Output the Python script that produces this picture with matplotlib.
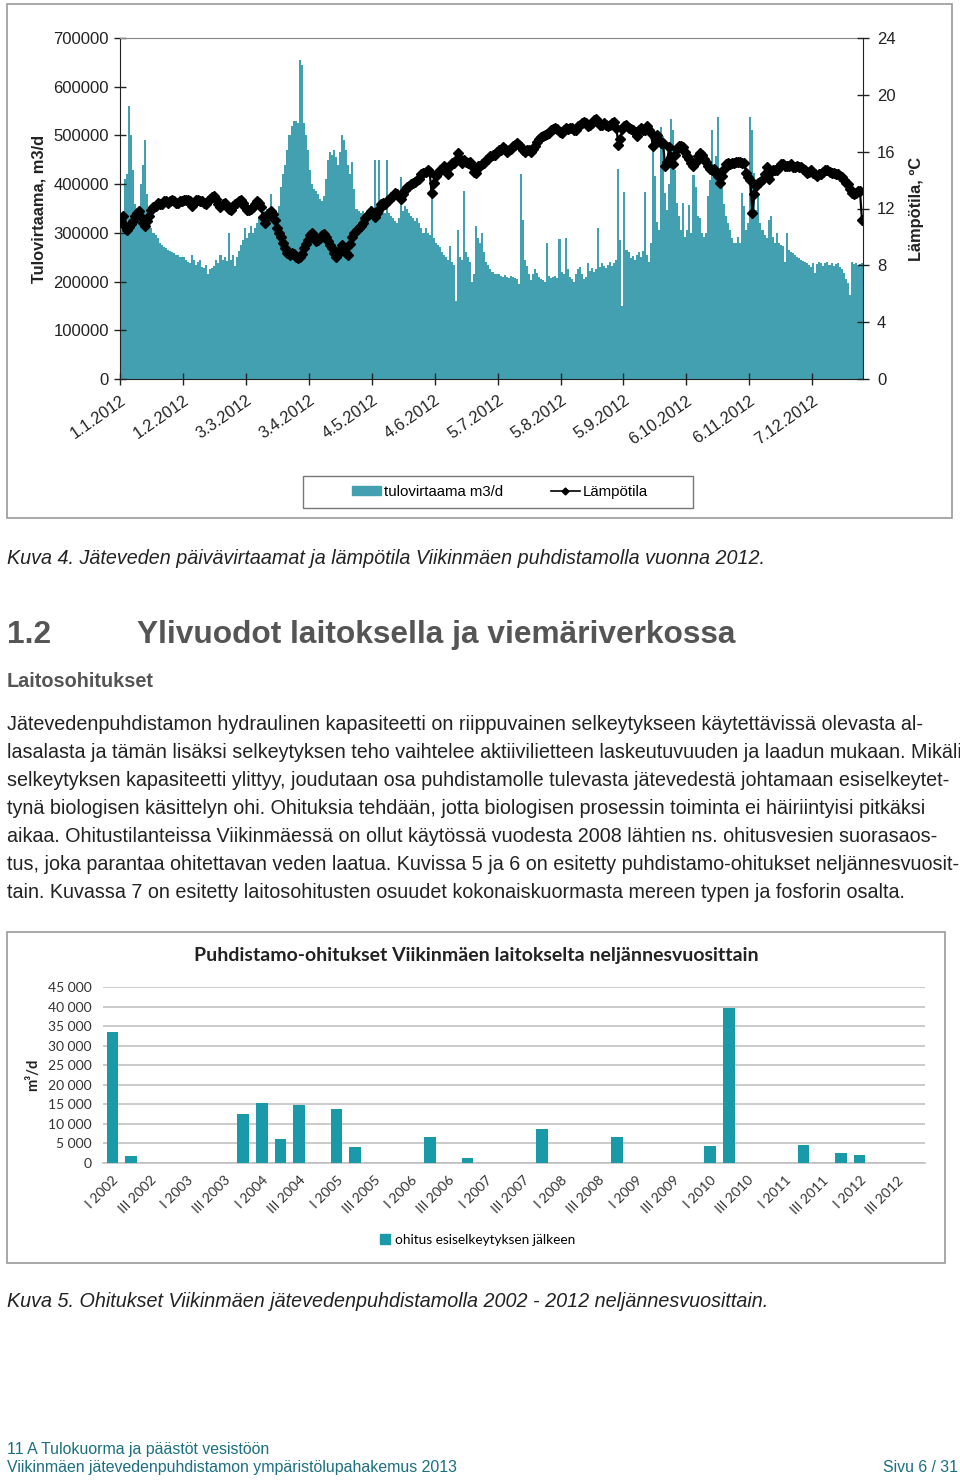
import numpy as np
import pandas as pd
import matplotlib
matplotlib.use("Agg")
import matplotlib.pyplot as plt
from matplotlib.patches import Rectangle, Patch
from matplotlib.lines import Line2D
from matplotlib.ticker import FuncFormatter

# ---------------- data: daily inflow 2012 (thousand m3/d) ----------------
flow_k = [
    320, 330, 410, 420, 560, 500, 430, 360, 340, 330,
    400, 440, 490, 380, 320, 310, 300, 295, 290, 280,
    275, 270, 268, 265, 262, 260, 258, 255, 255, 250,
    250, 250, 245, 240, 238, 255, 245, 235, 240, 245,
    230, 228, 235, 215, 225, 228, 232, 245, 238, 255,
    245, 250, 242, 300, 245, 255, 232, 250, 262, 275,
    285, 310, 290, 300, 315, 300, 310, 320, 330, 335,
    340, 345, 350, 345, 380, 340, 330, 325, 355, 395,
    420, 440, 470, 500, 520, 530, 530, 525, 655, 645,
    525, 500, 470, 430, 400, 390, 385, 380, 370, 365,
    375, 410, 450, 465, 460, 470, 455, 440, 465, 500,
    490, 470, 440, 420, 445, 390, 350, 345, 340, 345,
    335, 340, 350, 355, 350, 450, 360, 450, 355, 345,
    340, 450, 340, 335, 330, 325, 320, 330, 415, 345,
    355, 350, 340, 335, 330, 325, 330, 320, 310, 300,
    310, 300, 295, 380, 290, 280, 275, 270, 260, 255,
    250, 245, 272, 240, 235, 160, 305, 250, 245, 385,
    260, 250, 240, 200, 215, 315, 290, 280, 300, 260,
    240, 235, 225, 220, 215, 215, 215, 212, 210, 213,
    210, 208, 211, 209, 207, 205, 195, 421, 327, 245,
    231, 215, 203, 215, 225, 218, 210, 205, 203, 200,
    280, 212, 208, 210, 212, 208, 287, 220, 215, 289,
    225, 210, 205, 200, 215, 225, 230, 215, 205, 210,
    238, 222, 228, 220, 225, 310, 230, 238, 232, 228,
    235, 240, 232, 238, 245, 431, 286, 149, 383, 265,
    260, 248, 252, 245, 255, 260, 250, 262, 384, 255,
    241, 280, 477, 416, 323, 306, 518, 498, 381, 347,
    400, 534, 512, 429, 361, 334, 306, 361, 292, 306,
    358, 300, 419, 395, 334, 330, 299, 292, 300, 375,
    409, 512, 420, 457, 537, 420, 395, 360, 334, 320,
    306, 290, 279, 280, 292, 280, 381, 355, 306, 320,
    537, 512, 423, 347, 375, 320, 306, 295, 290, 327,
    334, 292, 279, 299, 280, 275, 272, 241, 299, 265,
    260, 258, 255, 250, 248, 245, 243, 240, 238, 235,
    230, 238, 217, 236, 240, 238, 232, 238, 240, 235,
    238, 232, 236, 238, 230, 225, 217, 205, 197, 173,
    240, 236, 238, 232, 236, 238,
]

# daily water temperature 2012 (deg C)
temp_c = [
    11.1, 11.5, 10.8, 10.5, 10.7, 10.9, 11.1, 11.5, 11.7, 11.8,
    11.4, 11.0, 10.8, 11.1, 11.5, 11.9, 12.1, 12.2, 12.4, 12.3,
    12.3, 12.5, 12.5, 12.4, 12.5, 12.6, 12.5, 12.4, 12.4, 12.5,
    12.5, 12.6, 12.6, 12.6, 12.5, 12.2, 12.4, 12.6, 12.6, 12.5,
    12.5, 12.4, 12.3, 12.5, 12.7, 12.8, 12.9, 12.7, 12.3, 12.1,
    12.3, 12.4, 12.2, 12.0, 11.9, 12.2, 12.3, 12.4, 12.5, 12.6,
    12.4, 12.1, 11.9, 11.9, 12.0, 12.1, 12.3, 12.5, 12.4, 12.1,
    11.4, 11.0, 11.4, 11.7, 11.8, 11.6, 11.2, 10.6, 10.3, 10.0,
    9.6, 9.2, 8.9, 8.7, 8.9, 8.8, 8.6, 8.5, 8.6, 8.8,
    9.2, 9.5, 9.8, 10.1, 10.3, 10.0, 9.7, 9.8, 9.9, 10.1,
    10.2, 10.0, 9.7, 9.4, 9.2, 8.9, 8.6, 8.8, 9.1, 9.4,
    9.2, 8.9, 8.7, 9.5, 10.0, 10.3, 10.5, 10.6, 10.8, 11.0,
    11.3, 11.5, 11.6, 11.8, 11.7, 11.4, 11.7, 12.0, 12.3, 12.4,
    12.3, 12.5, 12.6, 12.8, 12.9, 13.1, 13.0, 12.9, 12.7, 13.0,
    13.3, 13.5, 13.6, 13.7, 13.8, 13.9, 14.0, 14.1, 14.4, 14.5,
    14.6, 14.7, 14.6, 13.1, 13.8, 14.3, 14.5, 14.7, 14.8, 15.0,
    14.8, 14.4, 15.0, 15.2, 15.2, 15.4, 15.9, 15.5, 15.2, 15.4,
    15.3, 15.2, 15.3, 15.0, 14.6, 14.5, 15.0, 15.0, 15.1, 15.2,
    15.4, 15.5, 15.7, 15.8, 15.8, 16.0, 16.1, 16.15, 16.3, 16.2,
    16.0, 16.1, 16.2, 16.4, 16.5, 16.6, 16.5, 16.3, 16.1, 16.0,
    16.1, 16.1, 16.0, 16.2, 16.4, 16.7, 16.9, 17.0, 17.1, 17.2,
    17.25, 17.3, 17.5, 17.6, 17.7, 17.6, 17.4, 17.3, 17.5, 17.7,
    17.6, 17.7, 17.7, 17.5, 17.5, 17.8, 17.9, 18.0, 18.1, 18.0,
    17.8, 17.9, 18.0, 18.2, 18.3, 18.1, 17.9, 17.9, 18.0, 17.9,
    17.8, 17.9, 18.0, 18.1, 17.7, 16.5, 16.9, 17.6, 17.8, 17.9,
    17.7, 17.6, 17.5, 17.4, 17.1, 17.5, 17.7, 17.5, 17.5, 17.8,
    17.5, 17.3, 16.4, 17.0, 17.2, 16.8, 16.6, 16.6, 15.0, 15.3,
    16.3, 15.6, 15.1, 15.8, 16.2, 16.4, 16.4, 16.3, 16.0, 15.7,
    15.5, 15.2, 15.0, 15.3, 15.7, 15.9, 15.8, 15.5, 15.3, 15.0,
    14.8, 14.7, 14.8, 14.6, 14.3, 13.8, 14.3, 14.8, 15.1, 15.2,
    15.1, 15.2, 15.2, 15.3, 15.3, 15.3, 15.2, 15.2, 14.5, 14.2,
    14.0, 11.7, 13.0, 13.6, 13.8, 13.9, 14.1, 14.4, 14.9, 14.1,
    14.6, 14.7, 14.7, 14.7, 14.9, 15.1, 15.1, 15.0, 15.0, 15.0,
    15.1, 14.9, 14.9, 15.0, 14.9, 14.9, 14.8, 14.7, 14.5, 14.6,
    14.7, 14.5, 14.4, 14.3, 14.4, 14.4, 14.6, 14.7, 14.7, 14.6,
    14.5, 14.5, 14.4, 14.4, 14.3, 14.2, 14.0, 13.8, 13.7, 13.4,
    13.1, 13.0, 13.1, 13.2, 13.2, 11.2,
]

x_tick_dates = ["2012-01-01", "2012-02-01", "2012-03-03", "2012-04-03",
                "2012-05-04", "2012-06-04", "2012-07-05", "2012-08-05",
                "2012-09-05", "2012-10-06", "2012-11-06", "2012-12-07"]
x_tick_labels = ["1.1.2012", "1.2.2012", "3.3.2012", "3.4.2012", "4.5.2012",
                 "4.6.2012", "5.7.2012", "5.8.2012", "5.9.2012", "6.10.2012",
                 "6.11.2012", "7.12.2012"]

# ---------------- data: quarterly bypass 2002-2012 (m3/d) ----------------
years = [2002, 2003, 2004, 2005, 2006, 2007, 2008, 2009, 2010, 2011, 2012]
quarter_names = ["I", "II", "III", "IV"]
bypass = [33500, 1900, 0, 0,
          0, 0, 0, 12500,
          15400, 6200, 14900, 0,
          13700, 4000, 0, 0,
          0, 6600, 0, 1300,
          0, 0, 0, 8700,
          0, 0, 0, 6600,
          0, 0, 0, 0,
          4400, 39600, 0, 0,
          0, 4600, 0, 2600,
          2100, 0, 0, 0]

body_lines = [
    "Jätevedenpuhdistamon hydraulinen kapasiteetti on riippuvainen selkeytykseen käytettävissä olevasta al-",
    "lasalasta ja tämän lisäksi selkeytyksen teho vaihtelee aktiivilietteen laskeutuvuuden ja laadun mukaan. Mikäli",
    "selkeytyksen kapasiteetti ylittyy, joudutaan osa puhdistamolle tulevasta jätevedestä johtamaan esiselkeytet-",
    "tynä biologisen käsittelyn ohi. Ohituksia tehdään, jotta biologisen prosessin toiminta ei häiriintyisi pitkäksi",
    "aikaa. Ohitustilanteissa Viikinmäessä on ollut käytössä vuodesta 2008 lähtien ns. ohitusvesien suorasaos-",
    "tus, joka parantaa ohitettavan veden laatua. Kuvissa 5 ja 6 on esitetty puhdistamo-ohitukset neljännesvuosit-",
    "tain. Kuvassa 7 on esitetty laitosohitusten osuudet kokonaiskuormasta mereen typen ja fosforin osalta.",
]

# ---------------- figure ----------------
W, H = 960, 1480
fig = plt.figure(figsize=(W / 100, H / 100), dpi=100)
fig.patch.set_facecolor("white")
SANS = ["Liberation Sans", "DejaVu Sans"]
CAL = ["Lato", "DejaVu Sans"]


def fx(x):
    return x / W


def fy(y):
    return 1 - y / H


def txt(x, y, s, **kw):
    kw.setdefault("family", SANS)
    fig.text(fx(x), fy(y), s, **kw)


def frame(x0, y0, x1, y1, color="#9a9a9a", lw=1.2):
    fig.patches.append(Rectangle((fx(x0), fy(y1)), (x1 - x0) / W, (y1 - y0) / H,
                                 transform=fig.transFigure, fill=False,
                                 edgecolor=color, lw=lw))


# ======== top chart ========
frame(7, 4, 952, 518)
dates = pd.date_range("2012-01-01", "2012-12-31", freq="D")
flow = np.array(flow_k) * 1000.0
temp = np.array(temp_c)

ax1 = fig.add_axes([fx(120), fy(379), (863 - 120) / W, (379 - 38) / H])
teal = "#42a0b1"
ax1.bar(dates, flow, width=1.0, align="edge", color=teal, linewidth=0)
ax1.set_xlim(pd.Timestamp("2012-01-01"), pd.Timestamp("2013-01-01"))
ax1.set_ylim(0, 700000)
ax1.set_yticks(range(0, 700001, 100000))
ax1.set_yticklabels([str(v) for v in range(0, 700001, 100000)], family=SANS, fontsize=12)
ax1.set_xticks(pd.to_datetime(x_tick_dates))
ax1.set_xticklabels(x_tick_labels, rotation=35, ha="right", rotation_mode="anchor",
                    family=SANS, fontsize=11.8)
ax1.tick_params(axis="y", direction="inout", length=8, width=1, pad=4, colors="#222")
ax1.tick_params(axis="x", direction="inout", length=8, width=1, pad=6, colors="#222")
for s in ["left", "bottom"]:
    ax1.spines[s].set_color("#222")
ax1.spines["top"].set_color("#888")
ax1.spines["right"].set_visible(False)
ax1.set_ylabel("Tulovirtaama, m3/d", family=SANS, fontsize=11.8, weight="bold",
               color="#222", labelpad=5)

ax2 = ax1.twinx()
ax2.plot(dates + pd.Timedelta(hours=12), temp, color="black", lw=1.6,
         marker="D", ms=4.8, mec="black", mfc="black")
ax2.set_ylim(0, 24)
ax2.set_yticks(range(0, 25, 4))
ax2.set_yticklabels([str(v) for v in range(0, 25, 4)], family=SANS, fontsize=12)
ax2.tick_params(axis="y", direction="inout", length=8, width=1, pad=6, colors="#222")
ax2.spines["right"].set_color("#222")
ax2.spines["top"].set_visible(False)
ax2.spines["left"].set_visible(False)
ax2.spines["bottom"].set_visible(False)
ax2.set_ylabel("Lämpötila, ºC", family=SANS, fontsize=11.8, weight="bold",
               color="#222", labelpad=10)

# legend of top chart
frame(303, 476, 693, 508, color="#777", lw=1.0)
h1 = Patch(facecolor=teal, edgecolor=teal)
h2 = Line2D([0], [0], color="black", lw=1.2, marker="D", ms=3.5)
fig.legend([h1, h2], ["tulovirtaama m3/d", "Lämpötila"], loc="center",
           bbox_to_anchor=(fx(500), fy(492)), ncol=2, frameon=False,
           prop={"family": SANS, "size": 10.8}, handlelength=1.9,
           handleheight=0.5, columnspacing=3.2, handletextpad=0.2)

# ======== texts ========
txt(7, 564, "Kuva 4. Jäteveden päivävirtaamat ja lämpötila Viikinmäen puhdistamolla vuonna 2012.",
    fontsize=14.2, style="italic", color="#222", va="baseline")
txt(7, 643, "1.2", fontsize=22.8, weight="bold", color="#555", va="baseline")
txt(137, 643, "Ylivuodot laitoksella ja viemäriverkossa", fontsize=22.8,
    weight="bold", color="#555", va="baseline")
txt(7, 687, "Laitosohitukset", fontsize=14.3, weight="bold", color="#555", va="baseline")
for i, line in enumerate(body_lines):
    txt(7, 730 + 28 * i, line, fontsize=14.25, color="#222", va="baseline")
txt(7, 1307, "Kuva 5. Ohitukset Viikinmäen jätevedenpuhdistamolla 2002 - 2012 neljännesvuosittain.",
    fontsize=14.2, style="italic", color="#222", va="baseline")

foot = "#1b6f80"
txt(7, 1454, "11 A Tulokuorma ja päästöt vesistöön", fontsize=11.4, color=foot, va="baseline")
txt(7, 1472, "Viikinmäen jätevedenpuhdistamon ympäristölupahakemus 2013", fontsize=11.4,
    color=foot, va="baseline")
txt(958, 1472, "Sivu 6 / 31", fontsize=11.4, color=foot, va="baseline", ha="right")

# ======== bottom chart ========
frame(7, 932, 945, 1263)
cats = [f"{q} {y}" for y in years for q in quarter_names]
xpos = np.arange(len(cats))
ax3 = fig.add_axes([fx(103), fy(1163), (925 - 103) / W, (1163 - 987) / H])
bar_c = "#1a9aa8"
ax3.bar(xpos, bypass, width=0.62, color=bar_c, linewidth=0, zorder=3)
ax3.set_xlim(-0.5, len(cats) - 0.5)
ax3.set_ylim(0, 45000)
ax3.set_yticks(range(0, 45001, 5000))
ax3.yaxis.set_major_formatter(FuncFormatter(lambda v, p: f"{int(v):,}".replace(",", " ")))
ax3.grid(axis="y", color="#bdbdbd", lw=1.1, zorder=0)
ax3.set_xticks(xpos[::2])
ax3.set_xticklabels(cats[::2], rotation=45, ha="right", rotation_mode="anchor",
                    family=CAL, fontsize=10, color="#333")
for lab in ax3.get_yticklabels():
    lab.set_family(CAL)
    lab.set_fontsize(10)
    lab.set_color("#333")
ax3.tick_params(axis="both", length=0, pad=8)
for s in ["top", "right", "left"]:
    ax3.spines[s].set_visible(False)
ax3.spines["bottom"].set_color("#bdbdbd")
ax3.spines["bottom"].set_linewidth(1.1)
ax3.set_ylabel("m³/d", family=CAL, fontsize=10.5, weight="bold", color="#222", labelpad=6)

txt(476, 956, "Puhdistamo-ohitukset Viikinmäen laitokselta neljännesvuosittain",
    family=CAL, fontsize=14, weight="bold", color="#222", ha="center", va="center")
fig.legend([Patch(facecolor=bar_c, edgecolor=bar_c)], ["ohitus esiselkeytyksen jälkeen"],
           loc="center", bbox_to_anchor=(fx(478), fy(1240)), frameon=False,
           prop={"family": CAL, "size": 9.8}, handlelength=0.7, handleheight=0.7,
           handletextpad=0.4)

fig.savefig("out.png", dpi=100, facecolor="white")
